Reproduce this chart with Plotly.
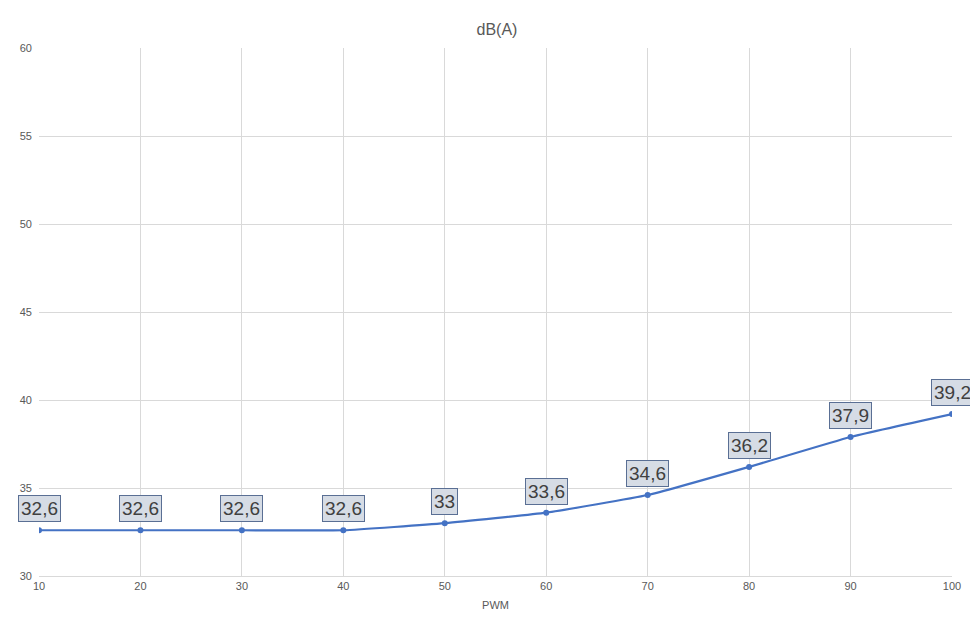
import plotly.graph_objects as go

pwm = [10, 20, 30, 40, 50, 60, 70, 80, 90, 100]
dba = [32.6, 32.6, 32.6, 32.6, 33.0, 33.6, 34.6, 36.2, 37.9, 39.2]
labels = ["32,6", "32,6", "32,6", "32,6", "33", "33,6", "34,6", "36,2", "37,9", "39,2"]

fig = go.Figure()
fig.add_trace(go.Scatter(
    x=pwm, y=dba, mode="lines+markers",
    line=dict(color="#4472c4", width=2.2, shape="spline", smoothing=0.4),
    marker=dict(color="#4472c4", size=6),
    showlegend=False, hoverinfo="x+y",
))

for x, y, t in zip(pwm, dba, labels):
    fig.add_annotation(
        x=x, y=y, text=t, showarrow=False, yanchor="bottom", yshift=8,
        font=dict(family="Liberation Sans, Arial", size=19, color="#404040"),
        bgcolor="#d6dce5", bordercolor="#5a6f94", borderwidth=1, borderpad=2,
    )

# page body adds an 8px offset, so margins are shifted to compensate
fig.update_layout(
    width=978, height=639,
    paper_bgcolor="white", plot_bgcolor="white",
    margin=dict(l=26, r=34, t=40, b=71),
    title=dict(text="dB(A)", x=0.5, xanchor="center", y=0.975,
               font=dict(family="Liberation Sans, Arial", size=16, color="#595959")),
    font=dict(family="Liberation Sans, Arial", size=11, color="#595959"),
)
fig.update_xaxes(
    range=[10, 100], tickvals=pwm, showgrid=True, gridcolor="#d9d9d9",
    zeroline=False, showline=True, linecolor="#d9d9d9", ticks="",
    tickfont=dict(color="#595959"),
    title=dict(text="PWM", font=dict(size=11, color="#595959"), standoff=10),
)
fig.update_yaxes(
    range=[30, 60], dtick=5, showgrid=True, gridcolor="#d9d9d9",
    zeroline=False, ticks="", ticklabelstandoff=6,
    tickfont=dict(color="#595959"),
)

fig.write_html("out.html")
